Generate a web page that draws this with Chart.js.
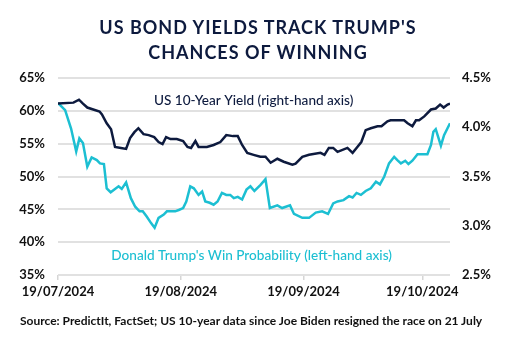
<!DOCTYPE html>
<html>
<head>
<meta charset="utf-8">
<script src="https://cdn.jsdelivr.net/npm/chart.js@4"></script>
<style>
  body { margin: 0; background: #fff; }
  #wrap { position: relative; width: 516px; height: 354px; font-family: Lato, "Noto Sans", sans-serif; }
  #title { position: absolute; left: 0; top: 15px; width: 516px; text-align: center; color: #0d1a3e;
           font-size: 18px; font-weight: 700; letter-spacing: 1px; line-height: 25px; }
  #source { position: absolute; left: 20px; top: 313px; color: #111; font-size: 12px; font-weight: 700; }
  canvas { position: absolute; left: 0; top: 0; }
</style>
</head>
<body>
<div id="wrap">
  <canvas id="bondChart" width="516" height="354"></canvas>
  <div id="title">US BOND YIELDS TRACK TRUMP'S<br>CHANCES OF WINNING</div>
  <div id="source">Source: PredictIt, FactSet; US 10-year data since Joe Biden resigned the race on 21 July</div>
</div>
<script>
// days counted from 19/07/2024
const yieldDays = [0, 3.9, 5.3, 6.3, 7.4, 8.9, 10.5, 11.1, 12.3, 13.4, 14.4, 15.9, 17.2, 18.2, 19.3, 20.3,
  21.6, 22.9, 24.3, 25.4, 26.4, 27.3, 28.4, 30.0, 31.6, 32.7, 33.6, 34.7, 35.5, 37.6, 39.3, 41.0, 42.5,
  44.2, 45.4, 46.5, 47.8, 49.4, 51.1, 52.4, 53.7, 55.4, 57.0, 59.2, 60.0, 61.7, 63.4, 66.3, 67.3, 68.4,
  69.5, 70.6, 73.1, 74.4, 75.6, 76.6, 77.7, 79.0, 80.7, 81.7, 83.2, 84.0, 87.4, 88.3, 89.5, 90.4, 91.2,
  92.5, 94.2, 95.4, 96.5, 97.4, 98.4, 99.0];
const yieldValues = [4.24, 4.25, 4.28, 4.24, 4.20, 4.18, 4.16, 4.13, 4.04, 3.98, 3.80, 3.79, 3.78, 3.89, 3.95, 3.99,
  3.93, 3.92, 3.90, 3.85, 3.83, 3.90, 3.88, 3.88, 3.86, 3.80, 3.79, 3.86, 3.80, 3.80, 3.82, 3.85, 3.92,
  3.91, 3.91, 3.82, 3.74, 3.72, 3.70, 3.70, 3.64, 3.68, 3.65, 3.62, 3.63, 3.70, 3.72, 3.74, 3.72, 3.79,
  3.79, 3.75, 3.79, 3.74, 3.80, 3.85, 3.97, 3.99, 4.01, 4.01, 4.06, 4.07, 4.07, 4.04, 4.01, 4.07, 4.07,
  4.11, 4.18, 4.19, 4.23, 4.20, 4.23, 4.24];

const winDays = [0, 1.8, 3.3, 4.6, 5.4, 6.3, 7.4, 8.5, 9.8, 10.6, 11.6, 12.3, 13.3, 14.4, 15.3, 16.1, 17.2,
  18.4, 19.5, 20.6, 21.4, 22.4, 23.5, 24.4, 25.4, 26.7, 27.5, 29.6, 30.5, 31.6, 32.4, 33.4, 34.3, 35.5,
  36.4, 37.2, 38.3, 39.3, 40.3, 41.4, 42.5, 43.5, 44.4, 45.4, 46.5, 47.6, 48.6, 49.6, 51.1, 52.4, 53.5,
  55.4, 56.6, 58.6, 59.6, 61.7, 63.4, 65.1, 66.7, 68.2, 69.5, 70.6, 72.1, 73.5, 74.4, 75.4, 76.5, 77.7,
  79.0, 80.3, 81.3, 82.4, 83.6, 84.9, 85.7, 86.6, 87.7, 88.5, 89.5, 90.8, 93.3, 94.2, 94.8, 95.4, 96.7,
  97.5, 99.0];
const winValues = [61.2, 60.1, 57.3, 53.8, 55.8, 55.1, 51.5, 52.9, 52.5, 52.0, 51.9, 48.2, 47.6, 48.1, 48.5, 48.1, 49.1,
  46.7, 45.4, 44.7, 44.7, 43.9, 42.9, 42.2, 43.7, 44.2, 44.7, 44.7, 44.9, 45.2, 46.2, 48.5, 48.2, 47.2,
  47.7, 46.2, 46.0, 45.7, 46.2, 47.5, 47.2, 47.2, 46.7, 46.9, 46.5, 48.0, 48.5, 47.8, 48.7, 49.6, 45.2,
  45.6, 45.2, 45.6, 44.3, 43.7, 43.7, 44.5, 44.7, 44.3, 45.9, 46.2, 46.4, 47.0, 46.8, 47.5, 47.2, 47.8,
  48.2, 49.2, 48.8, 50.0, 52.0, 53.0, 52.5, 52.0, 52.4, 51.9, 52.4, 53.4, 53.4, 54.8, 56.8, 57.2, 54.7,
  56.3, 58.1];

const tickDays = [0, 31, 62, 92];
const tickLabels = ['19/07/2024', '19/08/2024', '19/09/2024', '19/10/2024'];

const navy = '#0d1a3e';
const cyan = '#1cbfd2';

// series labels written inside the plot, placed in data coordinates
const seriesLabels = {
    id: 'seriesLabels',
    afterDatasetsDraw(chart) {
        const { ctx, scales } = chart;
        ctx.save();
        ctx.font = '500 13.6px Lato, "Noto Sans", sans-serif';
        ctx.textAlign = 'center';
        ctx.textBaseline = 'middle';
        ctx.fillStyle = navy;
        ctx.fillText('US 10-Year Yield (right-hand axis)', scales.x.getPixelForValue(49.4), scales.yRight.getPixelForValue(4.27));
        ctx.fillStyle = cyan;
        ctx.fillText("Donald Trump's Win Probability (left-hand axis)", scales.x.getPixelForValue(48.9), scales.yLeft.getPixelForValue(37.9));
        ctx.restore();
    }
};

const tickFont = { family: 'Lato, "Noto Sans", sans-serif', size: 13, weight: 'bold' };

new Chart('bondChart', {
    type: 'line',
    data: {
        datasets: [{
            label: 'US 10-Year Yield',
            data: yieldDays.map((d, i) => ({ x: d, y: yieldValues[i] })),
            yAxisID: 'yRight',
            borderColor: navy,
            borderWidth: 2.5,
            pointRadius: 0,
            tension: 0,
        }, {
            label: "Donald Trump's Win Probability",
            data: winDays.map((d, i) => ({ x: d, y: winValues[i] })),
            yAxisID: 'yLeft',
            borderColor: cyan,
            borderWidth: 2.5,
            pointRadius: 0,
            tension: 0,
        }]
    },
    options: {
        responsive: false,
        animation: false,
        devicePixelRatio: 1,
        layout: { padding: { top: 78, bottom: 49, left: 0, right: 0 } },
        plugins: { legend: { display: false }, tooltip: { enabled: false } },
        scales: {
            x: {
                type: 'linear',
                min: 0,
                max: 99,
                afterBuildTicks: (scale) => { scale.ticks = tickDays.map(v => ({ value: v })); },
                afterFit: (scale) => { scale.height = 30; },
                ticks: {
                    autoSkip: false,
                    maxRotation: 0,
                    padding: 4,
                    color: '#111',
                    font: tickFont,
                    callback: (v) => tickLabels[tickDays.indexOf(v)],
                },
                grid: { drawOnChartArea: false, tickLength: 5, color: '#d6d6d6', lineWidth: 1.5 },
                border: { display: false },
            },
            yLeft: {
                position: 'left',
                min: 35,
                max: 65,
                afterFit: (scale) => { scale.width = 58; },
                ticks: { stepSize: 5, padding: 13, color: '#111', font: tickFont, callback: (v) => v + '%' },
                grid: { color: '#e1e1e1', lineWidth: 2, drawTicks: false },
                border: { display: false },
            },
            yRight: {
                position: 'right',
                min: 2.5,
                max: 4.5,
                afterFit: (scale) => { scale.width = 66; },
                ticks: { stepSize: 0.5, padding: 12, color: '#111', font: tickFont, callback: (v) => v.toFixed(1) + '%' },
                grid: { drawOnChartArea: false, drawTicks: false },
                border: { display: false },
            }
        }
    },
    plugins: [seriesLabels]
});
</script>
</body>
</html>
